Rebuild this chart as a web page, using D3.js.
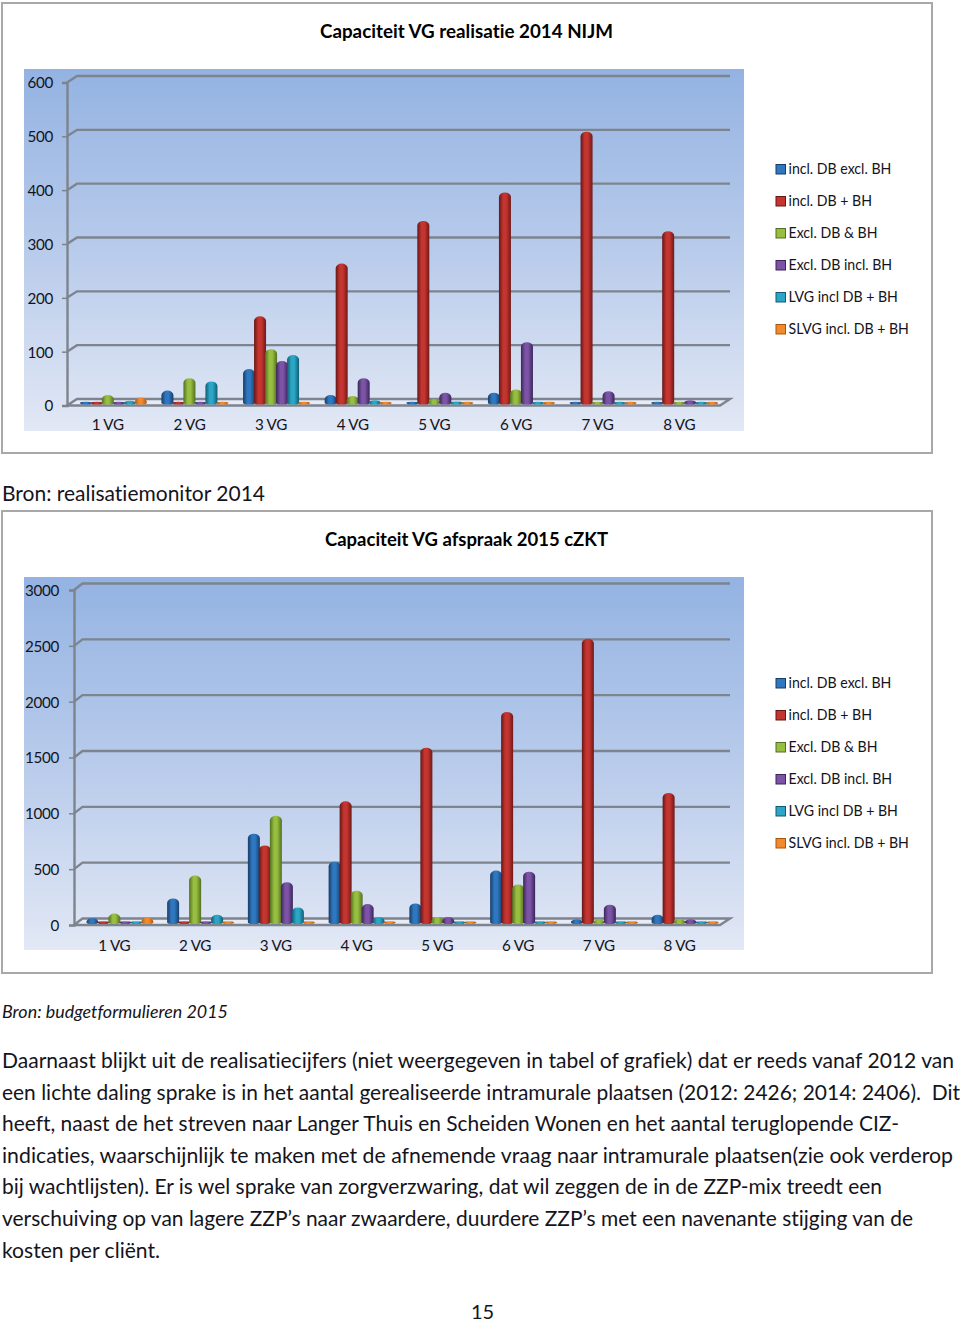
<!DOCTYPE html>
<html>
<head>
<meta charset="utf-8">
<title>Capaciteit VG</title>
<script src="https://cdn.jsdelivr.net/npm/d3@7/dist/d3.min.js"></script>
<style>
  html, body { margin: 0; padding: 0; background: #fff; overflow: hidden; }
  svg { display: block; }
  text { font-family: Lato, "Open Sans", sans-serif; fill: #141420; font-variant-ligatures: none; }
  .small { font-size: 15.2px; letter-spacing: -0.3px; }
</style>
</head>
<body>
<script>
// data
var categories = ["1 VG", "2 VG", "3 VG", "4 VG", "5 VG", "6 VG", "7 VG", "8 VG"];
var seriesNames = ["incl. DB excl. BH", "incl. DB + BH", "Excl. DB & BH", "Excl. DB incl. BH", "LVG incl DB + BH", "SLVG incl. DB + BH"];

var ticks2014 = [0, 100, 200, 300, 400, 500, 600];
var incl2014 = [1, 23, 63, 15, 1, 19, 1, 1];
var inclBoth2014 = [1, 1, 161, 259, 338, 391, 504, 319];
var excl2014 = [15, 46, 100, 13, 7, 25, 2, 2];
var exclBh2014 = [1, 1, 78, 46, 19, 113, 22, 5];
var lvg2014 = [4, 40, 89, 5, 3, 1, 1, 1];
var slvg2014 = [10, 1, 1, 1, 1, 1, 1, 1];

var ticks2015 = [0, 500, 1000, 1500, 2000, 2500, 3000];
var incl2015 = [40, 215, 795, 545, 170, 465, 30, 70];
var inclBoth2015 = [10, 10, 690, 1085, 1565, 1885, 2540, 1160];
var excl2015 = [80, 420, 955, 285, 50, 340, 25, 30];
var exclBh2015 = [10, 10, 360, 165, 50, 455, 160, 30];
var lvg2015 = [10, 70, 135, 50, 10, 10, 10, 10];
var slvg2015 = [45, 5, 5, 5, 5, 5, 5, 5];

var paragraph = [
  "Daarnaast blijkt uit de realisatiecijfers (niet weergegeven in tabel of grafiek) dat er reeds vanaf 2012 van",
  "een lichte daling sprake is in het aantal gerealiseerde intramurale plaatsen (2012: 2426; 2014: 2406).  Dit",
  "heeft, naast de het streven naar Langer Thuis en Scheiden Wonen en het aantal teruglopende CIZ-",
  "indicaties, waarschijnlijk te maken met de afnemende vraag naar intramurale plaatsen(zie ook verderop",
  "bij wachtlijsten). Er is wel sprake van zorgverzwaring, dat wil zeggen de in de ZZP-mix treedt een",
  "verschuiving op van lagere ZZP\u2019s naar zwaardere, duurdere ZZP\u2019s met een navenante stijging van de",
  "kosten per cli\u00ebnt."
];

// layout
var paragraphEnds = [954, 960, 899, 953, 882, 913, 160];
var paragraphBase = [1068, 1100, 1131, 1163, 1194, 1226, 1258];
var seriesColors = [
  ["#163c69", "#2f78bf", "#173f70"],
  ["#651717", "#c5352f", "#6f1919"],
  ["#52701f", "#97bd41", "#52701f"],
  ["#3c2558", "#7c54a6", "#3a245c"],
  ["#115a6f", "#2ba6c6", "#115d72"],
  ["#a8560f", "#f28a2c", "#ad5a10"]
];

var svg = d3.select("body").append("svg")
    .attr("width", 960)
    .attr("height", 1322);
var defs = svg.append("defs");

seriesColors.forEach(function(c, i) {
  var g = defs.append("linearGradient").attr("id", "cyl" + i);
  g.append("stop").attr("offset", "0%").attr("stop-color", c[0]);
  g.append("stop").attr("offset", "35%").attr("stop-color", c[1]);
  g.append("stop").attr("offset", "60%").attr("stop-color", c[1]);
  g.append("stop").attr("offset", "100%").attr("stop-color", c[2]);
});

var wall = defs.append("linearGradient").attr("id", "wall").attr("x2", 0).attr("y2", 1);
wall.append("stop").attr("offset", "0%").attr("stop-color", "#94b3e2");
wall.append("stop").attr("offset", "50%").attr("stop-color", "#b8cbeb");
wall.append("stop").attr("offset", "100%").attr("stop-color", "#e2e8f5");

// fits a line of text to the width it has on the page
function fit(sel, width) {
  sel.attr("textLength", width).attr("lengthAdjust", "spacingAndGlyphs");
}

function cylinder(x, w, top, base) {
  var h = base - top;
  var ry = Math.max(1.3, Math.min(4.5, h));
  var shoulder = Math.min(top + ry, base);
  return "M" + x + "," + base +
    "A" + (w / 2) + ",1.6 0 0 0 " + (x + w) + "," + base +
    "L" + (x + w) + "," + shoulder +
    "A" + (w / 2) + "," + ry + " 0 0 0 " + x + "," + shoulder + "Z";
}

function drawChart(o) {
  var g = svg.append("g");

  g.append("rect")
      .attr("x", 2).attr("y", o.frameTop)
      .attr("width", 930).attr("height", o.frameBottom - o.frameTop)
      .attr("fill", "#fff").attr("stroke", "#a8a8a8").attr("stroke-width", 2);

  g.append("text")
      .attr("x", o.titleX).attr("y", o.titleY)
      .style("font-size", "18.5px").style("font-weight", 700)
      .style("fill", "#000")
      .text(o.title)
      .call(fit, o.titleW);

  g.append("rect")
      .attr("x", 24).attr("y", o.wallTop)
      .attr("width", 720).attr("height", o.wallBottom - o.wallTop)
      .attr("fill", "url(#wall)");

  var y = d3.scaleLinear().domain(d3.extent(o.ticks)).range([o.y0, o.yTop]);
  var x = d3.scaleBand().domain(categories).range([o.axisX, 720]);
  var inner = d3.scaleBand().domain(d3.range(seriesNames.length)).range([-33, 33]);

  // back wall grid lines with the short diagonal to the front axis
  g.append("g").selectAll("path")
    .data(o.ticks.slice(1))
    .enter().append("path")
      .attr("fill", "none")
      .attr("stroke", "#7d848e")
      .attr("stroke-width", 2.4)
      .attr("d", function(d) {
        return "M" + o.axisX + "," + y(d) + "L" + (o.axisX + o.depthX) + "," + (y(d) - o.depthY) + "H730";
      });

  // floor
  g.append("path")
      .attr("fill", "#e6ebf6")
      .attr("stroke", "#7d848e")
      .attr("stroke-width", 2.4)
      .attr("d", "M" + o.axisX + "," + y(0) + "L" + (o.axisX + o.depthX) + "," + (y(0) - o.depthY) + "H730L720," + y(0) + "Z");

  var yAxis = g.append("g")
      .attr("transform", "translate(" + o.axisX + ",0)")
      .call(d3.axisLeft(y).tickValues(o.ticks).tickFormat(d3.format("d")).tickSize(5).tickPadding(o.tickPad));
  yAxis.select(".domain").attr("stroke", "#7d848e").attr("stroke-width", 2.4);
  yAxis.selectAll("line").attr("stroke", "#7d848e").attr("stroke-width", 1.5);
  yAxis.selectAll("text").attr("class", "small").attr("transform", "translate(0,0.6)");

  var xAxis = g.append("g")
      .attr("transform", "translate(0," + y(0) + ")")
      .call(d3.axisBottom(x).tickSize(0).tickPadding(o.labelPad));
  xAxis.select(".domain").remove();
  xAxis.selectAll("text").attr("class", "small");

  var series = g.append("g").selectAll("g")
    .data(o.values)
    .enter().append("g")
      .attr("fill", function(d, i) { return "url(#cyl" + i + ")"; });

  series.each(function(vals, s) {
    d3.select(this).selectAll("path")
      .data(vals)
      .enter().append("path")
        .attr("d", function(v, i) {
          var left = x(categories[i]) + x.bandwidth() / 2 + 5 + inner(s);
          return cylinder(left, inner.bandwidth() + 1, y(v) - o.floorLift, y(0) - o.floorLift);
        });
  });

  // legend
  var legend = d3.scalePoint().domain(d3.range(seriesNames.length)).range([o.legendTop, o.legendTop + 160]);
  var rows = g.append("g").selectAll("g")
    .data(seriesNames)
    .enter().append("g")
      .attr("transform", function(d, i) { return "translate(776," + legend(i) + ")"; });
  rows.append("rect")
      .attr("y", -4.5).attr("width", 9.5).attr("height", 9.5)
      .attr("fill", function(d, i) { return seriesColors[i][1]; })
      .attr("stroke", function(d, i) { return seriesColors[i][0]; })
      .attr("stroke-width", 1);
  rows.append("text")
      .attr("x", 12.5).attr("dy", "0.33em")
      .attr("class", "small")
      .style("letter-spacing", "0")
      .text(function(d) { return d; })
      .each(function(d) { d3.select(this).call(fit, this.getComputedTextLength() * 0.93); });
}

drawChart({
  title: "Capaciteit VG realisatie 2014 NIJM",
  titleX: 320, titleY: 37.5, titleW: 293,
  frameTop: 3, frameBottom: 453,
  wallTop: 69, wallBottom: 431,
  ticks: ticks2014,
  y0: 405.5, yTop: 82.5, axisX: 67, depthX: 10, depthY: 6.5,
  tickPad: 9, labelPad: 14, floorLift: 2.5, legendTop: 169,
  values: [incl2014, inclBoth2014, excl2014, exclBh2014, lvg2014, slvg2014]
});

drawChart({
  title: "Capaciteit VG afspraak 2015 cZKT",
  titleX: 325, titleY: 545.5, titleW: 283,
  frameTop: 511, frameBottom: 973,
  wallTop: 577, wallBottom: 950,
  ticks: ticks2015,
  y0: 925, yTop: 590, axisX: 74, depthX: 8.5, depthY: 6.5,
  tickPad: 10, labelPad: 15, floorLift: 2.5, legendTop: 683,
  values: [incl2015, inclBoth2015, excl2015, exclBh2015, lvg2015, slvg2015]
});

svg.append("text")
    .attr("x", 2).attr("y", 501)
    .style("font-size", "20.5px")
    .text("Bron: realisatiemonitor 2014")
    .call(fit, 263);

svg.append("text")
    .attr("x", 2).attr("y", 1018)
    .style("font-size", "17px").style("font-style", "italic")
    .text("Bron: budgetformulieren 2015")
    .call(fit, 226);

svg.append("g").selectAll("text")
  .data(paragraph)
  .enter().append("text")
    .attr("x", 2)
    .attr("y", function(d, i) { return paragraphBase[i]; })
    .style("font-size", "20.5px")
    .style("white-space", "pre")
    .text(function(d) { return d; })
    .each(function(d, i) { d3.select(this).call(fit, paragraphEnds[i] - 2); });

svg.append("text")
    .attr("x", 471).attr("y", 1319)
    .style("font-size", "20px")
    .text("15");
</script>
</body>
</html>
